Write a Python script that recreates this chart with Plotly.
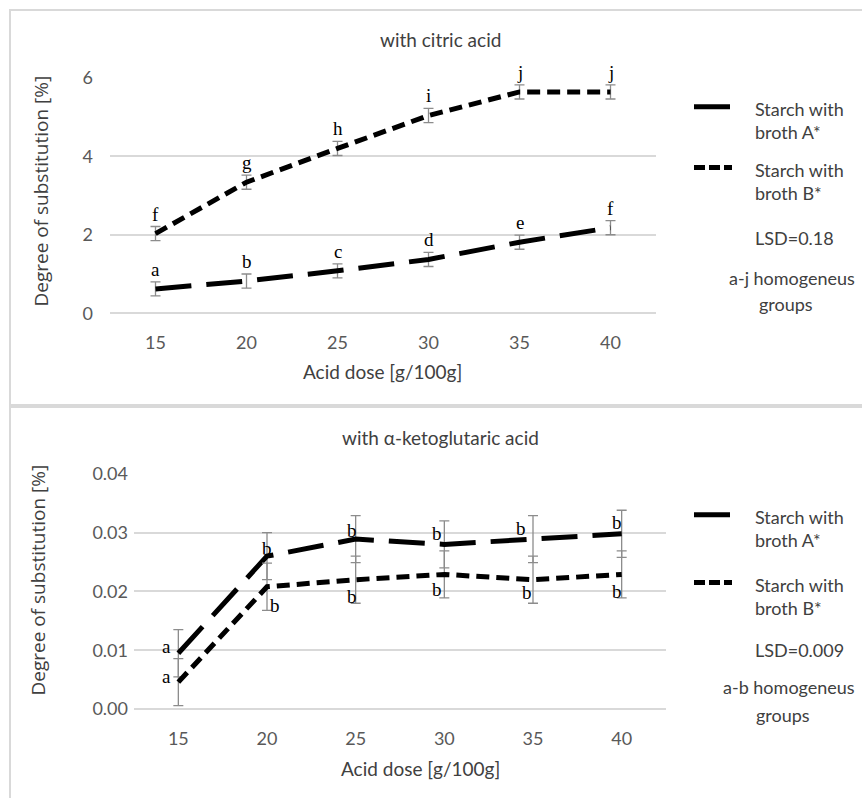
import plotly.graph_objects as go

# ---------------- data ----------------
doses = [15, 20, 25, 30, 35, 40]

citric_A = [0.62, 0.82, 1.08, 1.37, 1.81, 2.18]
citric_A_err = [0.18, 0.18, 0.18, 0.18, 0.18, 0.18]
citric_B = [2.03, 3.34, 4.20, 5.04, 5.64, 5.64]
citric_B_err = [0.18, 0.18, 0.18, 0.18, 0.18, 0.18]
citric_A_letters = ["a", "b", "c", "d", "e", "f"]
citric_B_letters = ["f", "g", "h", "i", "j", "j"]

keto_A = [0.0095, 0.026, 0.0289, 0.028, 0.0289, 0.0298]
keto_A_err = [0.004, 0.004, 0.004, 0.004, 0.004, 0.004]
keto_B = [0.0046, 0.0208, 0.022, 0.0229, 0.022, 0.0229]
keto_B_err = [0.004, 0.004, 0.004, 0.004, 0.004, 0.004]
keto_A_letters = ["a", "b", "b", "b", "b", "b"]
keto_B_letters = ["a", "b", "b", "b", "b", "b"]

citric_yticks = [0, 2, 4, 6]
keto_yticks = [0.00, 0.01, 0.02, 0.03, 0.04]
keto_yticklabels = ["0.00", "0.01", "0.02", "0.03", "0.04"]

series_names = ["Starch with<br>broth A*", "Starch with<br>broth B*"]
citric_notes = ["LSD=0.18", "a-j homogeneus", "groups"]
keto_notes = ["LSD=0.009", "a-b homogeneus", "groups"]

# ---------------- layout helpers ----------------
W, H = 862, 798
def fx(p):
    return p / W
def fy(r):
    # compensate the page's vertical offset/scale seen when photographed
    p = (r - 10) / 0.975
    return 1 - p / H

SANS = "Lato, 'Open Sans', sans-serif"
YSANS = "'Open Sans', Lato, sans-serif"
SERIF = "'Liberation Serif', 'DejaVu Serif', serif"
TXT = "#404040"
GRID = "#d9d9d9"
ERRC = "#8c8c8c"
DASH_A = "36px,15px"
DASH_B = "13px,7px"

fig = go.Figure()

def add_series(y, err, dash, xa, ya):
    fig.add_trace(go.Scatter(
        x=doses, y=y, mode="lines", xaxis=xa, yaxis=ya,
        line=dict(color="black", width=5, dash=dash),
        error_y=dict(type="data", array=err, visible=True, color=ERRC,
                     thickness=1.3, width=5),
        showlegend=False, cliponaxis=False, hoverinfo="x+y"))

add_series(citric_A, citric_A_err, DASH_A, "x", "y")
add_series(citric_B, citric_B_err, DASH_B, "x", "y")
add_series(keto_A, keto_A_err, DASH_A, "x2", "y2")
add_series(keto_B, keto_B_err, DASH_B, "x2", "y2")

ann = []
# top letters: just above the error bar
for vals, errs, letters in [(citric_A, citric_A_err, citric_A_letters),
                            (citric_B, citric_B_err, citric_B_letters)]:
    for d, v, e, t in zip(doses, vals, errs, letters):
        ann.append(dict(x=d, y=v + e, xref="x", yref="y", text=t,
                        showarrow=False, yanchor="bottom", yshift=0,
                        font=dict(family=SERIF, size=19, color="black")))

# bottom letters: shifted around the points
kA_dx = [-12, 0, -4, -7, -12, -5]
kA_dy = [7, 8, 9, 11, 11, 11]
kB_dx = [-12, 8, -4, -7, -6, -5]
kB_dy = [6, -19, -17, -15, -13, -17]
for vals, letters, dxs, dys in [(keto_A, keto_A_letters, kA_dx, kA_dy),
                                (keto_B, keto_B_letters, kB_dx, kB_dy)]:
    for d, v, t, dx, dy in zip(doses, vals, letters, dxs, dys):
        ann.append(dict(x=d, y=v, xref="x2", yref="y2", text=t,
                        showarrow=False, xshift=dx, yshift=dy,
                        font=dict(family=SERIF, size=19, color="black")))

def text(px, py, s, size=18, xanchor="center", angle=0, family=SANS):
    ann.append(dict(x=fx(px), y=fy(py), xref="paper", yref="paper", text=s,
                    showarrow=False, xanchor=xanchor, yanchor="middle",
                    textangle=angle,
                    font=dict(family=family, size=size, color=TXT)))

# titles
text(440, 38, "with citric acid", 19)
text(440, 437, "with α-ketoglutaric acid", 19)
text(382, 370, "Acid dose [g/100g]", 19)
text(420, 768, "Acid dose [g/100g]", 19)
text(41, 190, "Degree of substitution [%]", 19, angle=-90, family=YSANS)
text(38, 580, "Degree of substitution [%]", 19, angle=-90, family=YSANS)

shapes = []
def legend_block(yA, yB, notes, ynotes, xnote_center):
    for yy, name, dash in [(yA, series_names[0], DASH_A), (yB, series_names[1], "11px,4px")]:
        shapes.append(dict(type="line", xref="paper", yref="paper",
                           x0=fx(694), x1=fx(732), y0=fy(yy), y1=fy(yy),
                           line=dict(color="black", width=5, dash=dash)))
        ann.append(dict(x=fx(753), y=fy(yy - 11), xref="paper", yref="paper",
                        text=name, showarrow=False, xanchor="left",
                        yanchor="top", align="left",
                        font=dict(family=SANS, size=18, color=TXT)))
    text(753, ynotes[0], notes[0], 18, xanchor="left")
    text(xnote_center, ynotes[1], notes[1], 18)
    text(xnote_center - 6, ynotes[2], notes[2], 18)

legend_block(105, 166, citric_notes, [237, 277, 303], 792)
legend_block(514, 582, keto_notes, [650, 687, 715], 789)

# panel borders
shapes.append(dict(type="rect", xref="paper", yref="paper",
                   x0=fx(10), x1=fx(880), y0=fy(8), y1=fy(404),
                   line=dict(color=GRID, width=2)))
shapes.append(dict(type="rect", xref="paper", yref="paper",
                   x0=fx(10), x1=fx(880), y0=fy(406), y1=fy(830),
                   line=dict(color=GRID, width=2)))

axis_common = dict(showline=False, ticks="", showgrid=False, zeroline=False,
                   tickfont=dict(family=SANS, size=18, color="#595959"))
yaxis_common = dict(showline=False, ticks="", showgrid=True, gridcolor=GRID,
                    gridwidth=2, zeroline=True, zerolinecolor=GRID,
                    zerolinewidth=2,
                    tickfont=dict(family=SANS, size=18, color="#595959"))

fig.update_layout(
    width=W, height=H,
    margin=dict(l=0, r=0, t=0, b=0),
    paper_bgcolor="white", plot_bgcolor="white",
    xaxis=dict(domain=[fx(110), fx(656)], range=[12.5, 42.5], anchor="y",
               tickvals=doses, ticklabelstandoff=17, **axis_common),
    yaxis=dict(domain=[fy(312), fy(76)], range=[0, 6], anchor="x",
               tickvals=citric_yticks, ticklabelstandoff=16, **yaxis_common),
    xaxis2=dict(domain=[fx(134), fx(666)], range=[12.5, 42.5], anchor="y2",
                tickvals=doses, ticklabelstandoff=17, **axis_common),
    yaxis2=dict(domain=[fy(709), fy(473)], range=[0, 0.04], anchor="x2",
                tickvals=keto_yticks, ticktext=keto_yticklabels,
                ticklabelstandoff=5, **yaxis_common),
    annotations=ann,
    shapes=shapes,
    showlegend=False,
)

fig.write_html("out.html",
               config={"displayModeBar": False},
               post_script="document.body.style.margin='0px';"
                           "document.body.style.overflow='hidden';")
